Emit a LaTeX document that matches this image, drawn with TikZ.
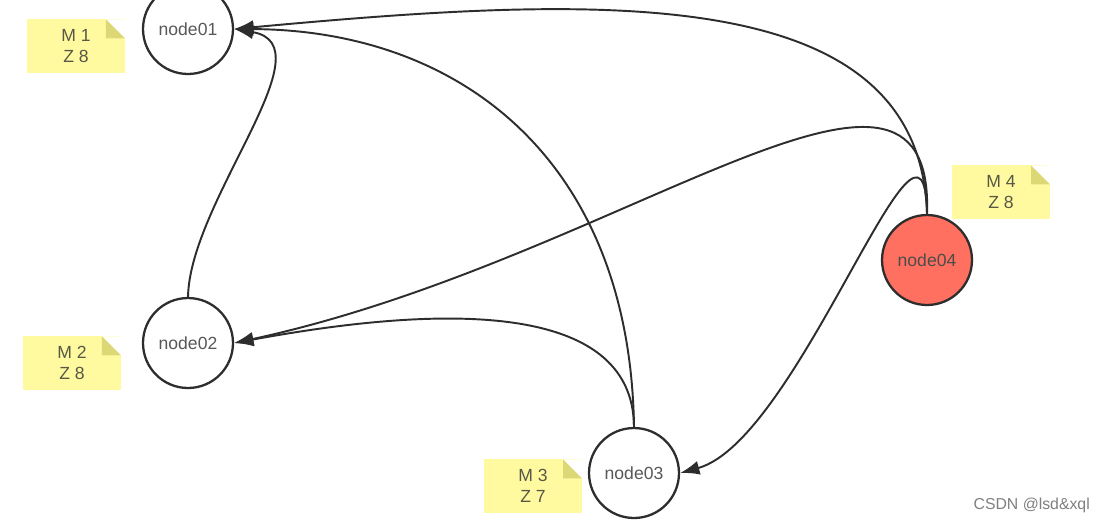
\documentclass[tikz,border=0pt]{standalone}
\usepackage{fontspec}
\setmainfont{Liberation Sans}
\usetikzlibrary{arrows.meta}
\definecolor{inkGray}{RGB}{88,88,88}
\definecolor{edgeDark}{RGB}{45,45,45}
\definecolor{noteYellow}{RGB}{255,250,160}
\definecolor{noteFold}{RGB}{220,216,118}
\definecolor{noteInk}{RGB}{88,88,70}
\definecolor{hotRed}{RGB}{255,112,96}
\newcommand{\foldsize}{0.38cm}
\begin{document}
\begin{tikzpicture}[x=0.02cm,y=-0.02cm,
  vertex/.style={circle,draw=edgeDark,line width=1.3pt,fill=white,minimum size=1.8cm,inner sep=0pt,text=inkGray,font=\fontsize{10}{12}\selectfont},
  sticky/.style={rectangle,fill=noteYellow,minimum width=1.96cm,minimum height=1.07cm,inner sep=0pt,align=center,text=noteInk,font=\fontsize{10}{12}\selectfont,
    path picture={
      \fill[white] ([xshift=-\foldsize]path picture bounding box.north east) -- (path picture bounding box.north east) -- ([yshift=-\foldsize]path picture bounding box.north east) -- cycle;
      \fill[noteFold] ([xshift=-\foldsize]path picture bounding box.north east) -- ([xshift=-\foldsize,yshift=-\foldsize]path picture bounding box.north east) -- ([yshift=-\foldsize]path picture bounding box.north east) -- cycle;}},
  link/.style={draw=edgeDark,line width=1.1pt,-{Latex[length=11pt,width=8pt]}}]
\useasboundingbox[fill=white] (0,0) rectangle (1108,522);
\node[vertex] (n1) at (188,29) {node01};
\node[vertex] (n2) at (188,343) {node02};
\node[vertex] (n3) at (634,473) {node03};
\node[vertex,fill=hotRed,text=edgeDark!85] (n4) at (927,260) {node04};
\node[sticky] (m1) at (76,46) {M 1\\Z 8};
\node[sticky] (m2) at (72,363) {M 2\\Z 8};
\node[sticky] (m3) at (533,486) {M 3\\Z 7};
\node[sticky] (m4) at (1001,192) {M 4\\Z 8};
\draw[link] (n4.north) .. controls (920,-20) and (600,-5) .. (n1.east);
\draw[link] (n4.north) .. controls (935,-10) and (620,260) .. (n2.east);
\draw[link] (n4.north) .. controls (925,60) and (800,440) .. (n3.east);
\draw[link] (n3.north) .. controls (630,160) and (460,30) .. (n1.east);
\draw[link] (n3.north) .. controls (633,300) and (440,305) .. (n2.east);
\draw[link] (n2.north) .. controls (190,200) and (330,45) .. (n1.east);
\node[text=gray,font=\fontsize{9}{10}\selectfont,anchor=east] (mark) at (1096,505) {CSDN @lsd\&xql};
\end{tikzpicture}
\end{document}
